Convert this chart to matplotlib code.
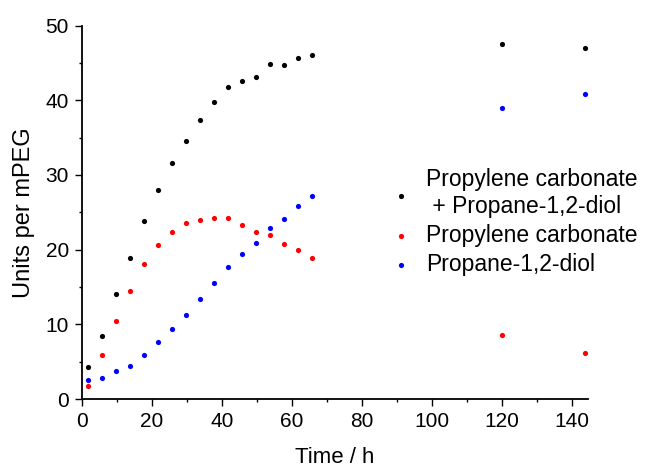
import matplotlib
matplotlib.use('Agg')
import matplotlib.pyplot as plt
from matplotlib.ticker import MultipleLocator

plt.rcParams['font.family'] = ['Liberation Sans', 'DejaVu Sans']

# sampling times (h)
time_h = [1.7, 5.7, 9.7, 13.7, 17.7, 21.6, 25.6, 29.6, 33.6, 37.7, 41.8, 45.8, 49.8,
          53.8, 57.8, 61.8, 65.8, 120, 143.7]

# units per mPEG
total = [4.3, 8.5, 14.0, 18.9, 23.8, 28.0, 31.6, 34.5, 37.3, 39.7, 41.8, 42.6, 43.1,
         44.9, 44.7, 45.7, 46.0, 47.5, 47.0]
carbonate = [1.8, 5.9, 10.5, 14.5, 18.1, 20.6, 22.4, 23.5, 24.0, 24.3, 24.2, 23.3, 22.3,
             22.0, 20.7, 20.0, 18.9, 8.6, 6.2]
diol = [2.6, 2.8, 3.7, 4.4, 5.9, 7.6, 9.4, 11.2, 13.4, 15.5, 17.7, 19.4, 20.9,
        22.9, 24.1, 25.8, 27.2, 39.0, 40.9]

labels = ['Propylene carbonate\n + Propane-1,2-diol', 'Propylene carbonate', 'Propane-1,2-diol']
colors = ['black', 'red', 'blue']

fig = plt.figure(figsize=(6.45, 4.68), dpi=100)
ax = fig.add_axes([0.1271, 0.1474, 0.7845, 0.798])

for ys, lab, c in zip([total, carbonate, diol], labels, colors):
    ax.scatter(time_h, ys, s=14, color=c, label=lab, linewidths=0, clip_on=False)

ax.set_xlim(0, 144.6)
ax.set_ylim(0, 50)
ax.xaxis.set_major_locator(MultipleLocator(20))
ax.xaxis.set_minor_locator(MultipleLocator(10))
ax.yaxis.set_major_locator(MultipleLocator(10))
ax.yaxis.set_minor_locator(MultipleLocator(5))
ax.tick_params(which='major', direction='out', length=5, width=1, labelsize=15, pad=4.5)
ax.tick_params(which='minor', direction='out', length=2.5, width=1)

for s in ['top', 'right']:
    ax.spines[s].set_visible(False)
for s in ['left', 'bottom']:
    ax.spines[s].set_linewidth(1.3)

ax.set_xlabel('Time / h', fontsize=16)
ax.set_ylabel('Units per mPEG', fontsize=17)
ax.xaxis.set_label_coords(0.5, -0.128)
ax.yaxis.set_label_coords(-0.092, 0.5)

ax.legend(loc='upper left', bbox_to_anchor=(0.587, 0.6646), bbox_transform=fig.transFigure,
          frameon=False, fontsize=16.5, borderpad=0, handlelength=0.97, handletextpad=0.6,
          labelspacing=0.26, markerscale=1.0, scatterpoints=1)

fig.savefig('out.png', dpi=100)
